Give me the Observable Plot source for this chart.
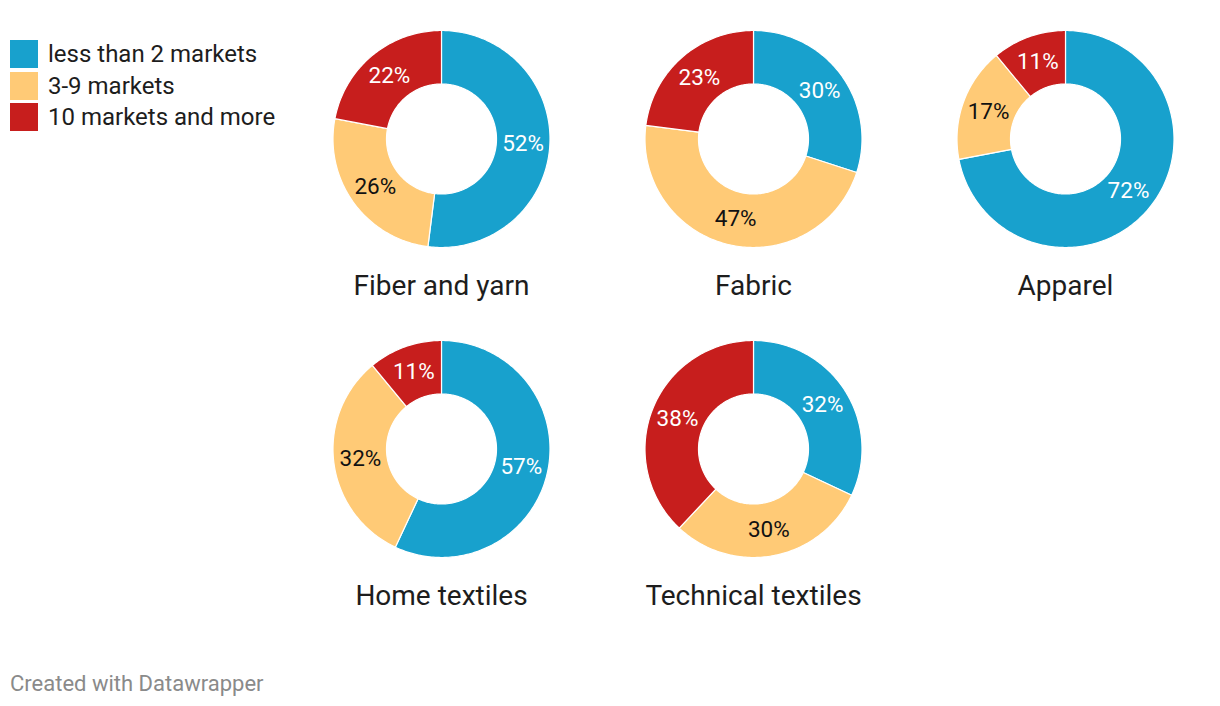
<!DOCTYPE html>
<html><head><meta charset="utf-8">
<script src="https://cdn.jsdelivr.net/npm/d3@7"></script>
<script src="https://cdn.jsdelivr.net/npm/@observablehq/plot@0.6"></script>
<style>
body{margin:0;background:#fff;font-family:Roboto,sans-serif;}
#wrap{position:relative;width:1220px;height:706px;overflow:hidden;}
#chart{position:absolute;left:0;top:0;}
#legend{position:absolute;left:10px;top:38px;}
.item{display:flex;align-items:center;height:31.7px;font-size:24px;color:#1d1d1d;}
.sw{width:28px;height:28px;margin-right:10px;flex:none;}
#caption{position:absolute;left:10px;top:671px;font-size:22px;color:#8a8a8a;}
</style></head>
<body><div id="wrap"><div id="chart"></div><div id="legend"></div><div id="caption">Created with Datawrapper</div></div>
<script>
const categories = ["Fiber and yarn", "Fabric", "Apparel", "Home textiles", "Technical textiles"];
const seriesNames = ["less than 2 markets", "3-9 markets", "10 markets and more"];
const lessThan2 = [52, 30, 72, 57, 32];
const from3to9 = [26, 47, 17, 32, 30];
const tenOrMore = [22, 23, 11, 11, 38];
const seriesValues = [lessThan2, from3to9, tenOrMore];
const colors = ["#18a1cd", "#ffca76", "#c71e1d"];

// layout
const W = 1220, H = 650;
const x0 = 441, y0 = 138.5, colStep = 312, rowStep = 310;
const R = 108.5, r = 55;

const arcPts = [], labels = [], titles = [];
categories.forEach((cat, i) => {
  const cx = x0 + (i % 3) * colStep;
  const cy = y0 + Math.floor(i / 3) * rowStep;
  titles.push({x: cx, y: cy + 147, text: cat});
  let cum = 0;
  seriesValues.forEach((vals, j) => {
    const v = vals[i];
    const a0 = cum / 100 * 2 * Math.PI, a1 = (cum + v) / 100 * 2 * Math.PI;
    const key = cat + "|" + j;
    const n = Math.max(2, Math.ceil(v * 3.6));
    const poly = [];
    for (let k = 0; k <= n; k++) { const t = a0 + (a1 - a0) * k / n; poly.push([cx + R * Math.sin(t), cy - R * Math.cos(t)]); }
    for (let k = n; k >= 0; k--) { const t = a0 + (a1 - a0) * k / n; poly.push([cx + r * Math.sin(t), cy - r * Math.cos(t)]); }
    poly.push(poly[0]);
    poly.forEach(p => arcPts.push({x: p[0], y: p[1], key, series: seriesNames[j]}));
    const am = (a0 + a1) / 2, rm = (R + r) / 2;
    labels.push({x: cx + rm * Math.sin(am), y: cy - rm * Math.cos(am), text: v + "%", j});
    cum += v;
  });
});

const chart = Plot.plot({
  width: W, height: H, margin: 0,
  style: {fontFamily: "Roboto, sans-serif", background: "transparent"},
  x: {domain: [0, W], range: [0, W], axis: null},
  y: {domain: [0, H], range: [0, H], axis: null},
  color: {domain: seriesNames, range: colors},
  marks: [
    Plot.line(arcPts, {x: "x", y: "y", z: "key", fill: "series", stroke: "white", strokeWidth: 1.2, curve: "linear"}),
    Plot.text(labels.filter(d => d.j !== 1), {x: "x", y: "y", text: "text", fill: "white", fontSize: 22.5}),
    Plot.text(labels.filter(d => d.j === 1), {x: "x", y: "y", text: "text", fill: "#111", fontSize: 22.5}),
    Plot.text(titles, {x: "x", y: "y", text: "text", fill: "#1d1d1d", fontSize: 28})
  ]
});
document.getElementById("chart").appendChild(chart);

const legend = document.getElementById("legend");
seriesNames.forEach((s, j) => {
  const it = document.createElement("div"); it.className = "item";
  const sw = document.createElement("div"); sw.className = "sw"; sw.style.background = colors[j];
  const tx = document.createElement("span"); tx.textContent = s;
  it.appendChild(sw); it.appendChild(tx); legend.appendChild(it);
});
</script>
</body></html>
